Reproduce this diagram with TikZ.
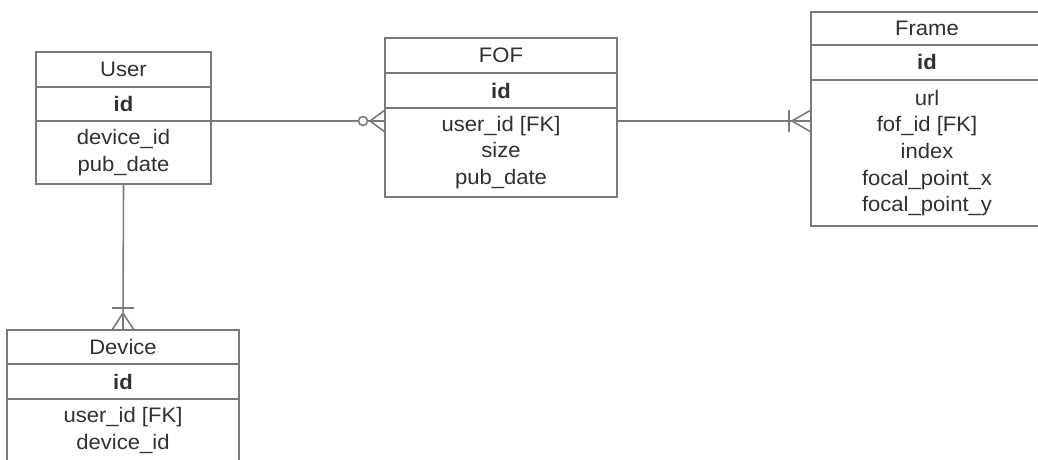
\documentclass[tikz,border=0pt]{standalone}
\usepackage{fontspec}
\setmainfont[FakeStretch=1.05]{Liberation Sans}
\usetikzlibrary{positioning}
\definecolor{erline}{HTML}{7A7A7A}
\definecolor{ertext}{HTML}{303030}

\begin{document}
\begin{tikzpicture}[x=1pt,y=1pt,
  box/.style={draw=erline,line width=1.6pt,outer sep=0pt,inner sep=0pt,
    text=ertext,align=center,font=\fontsize{21}{26.7}\selectfont},
  conn/.style={draw=erline,line width=1.6pt}]
\useasboundingbox (0,0) rectangle (1038,460);

\node[box,minimum width=175,minimum height=35] (user) at (123.5,390.5) {User};
\node[box,minimum width=175,minimum height=34,below=0pt of user] (user-id) {\textbf{id}};
\node[box,minimum width=175,minimum height=63,below=0pt of user-id] (user-attr) {device\_id\\pub\_date};

\node[box,minimum width=232,minimum height=35] (fof) at (501,404.5) {FOF};
\node[box,minimum width=232,minimum height=35,below=0pt of fof] (fof-id) {\textbf{id}};
\node[box,minimum width=232,minimum height=89,below=0pt of fof-id] (fof-attr) {user\_id [FK]\\size\\pub\_date};

\node[box,minimum width=232,minimum height=33] (frame) at (927,431.5) {Frame};
\node[box,minimum width=232,minimum height=35,below=0pt of frame] (frame-id) {\textbf{id}};
\node[box,minimum width=232,minimum height=146,below=0pt of frame-id] (frame-attr) {url\\fof\_id [FK]\\index\\focal\_point\_x\\focal\_point\_y};

\node[box,minimum width=232,minimum height=34] (device) at (123,113) {Device};
\node[box,minimum width=232,minimum height=35,below=0pt of device] (device-id) {\textbf{id}};
\node[box,minimum width=232,minimum height=63,below=0pt of device-id] (device-attr) {user\_id [FK]\\device\_id};

\coordinate (uf) at (fof-attr.west |- user-attr.north east);
\coordinate (ff) at (frame-attr.west |- user-attr.north east);

\draw[conn] (user-attr.north east) -- (uf);
\draw[conn] ([xshift=-15pt]uf) -- ([yshift=11pt]uf) ([xshift=-15pt]uf) -- ([yshift=-11pt]uf);
\draw[conn,fill=white] ([xshift=-22pt]uf) circle (4.5pt);

\draw[conn] (fof-attr.east |- uf) -- (ff);
\draw[conn] ([xshift=-22pt,yshift=11pt]ff) -- ([xshift=-22pt,yshift=-11pt]ff);
\draw[conn] ([xshift=-19pt]ff) -- ([yshift=11pt]ff) ([xshift=-19pt]ff) -- ([yshift=-11pt]ff);

\draw[conn] (user-attr.south) -- (device.north);
\draw[conn] ([xshift=-11pt,yshift=22pt]device.north) -- ([xshift=11pt,yshift=22pt]device.north);
\draw[conn] ([yshift=17pt]device.north) -- ([xshift=-11pt]device.north) ([yshift=17pt]device.north) -- ([xshift=11pt]device.north);
\end{tikzpicture}
\end{document}
